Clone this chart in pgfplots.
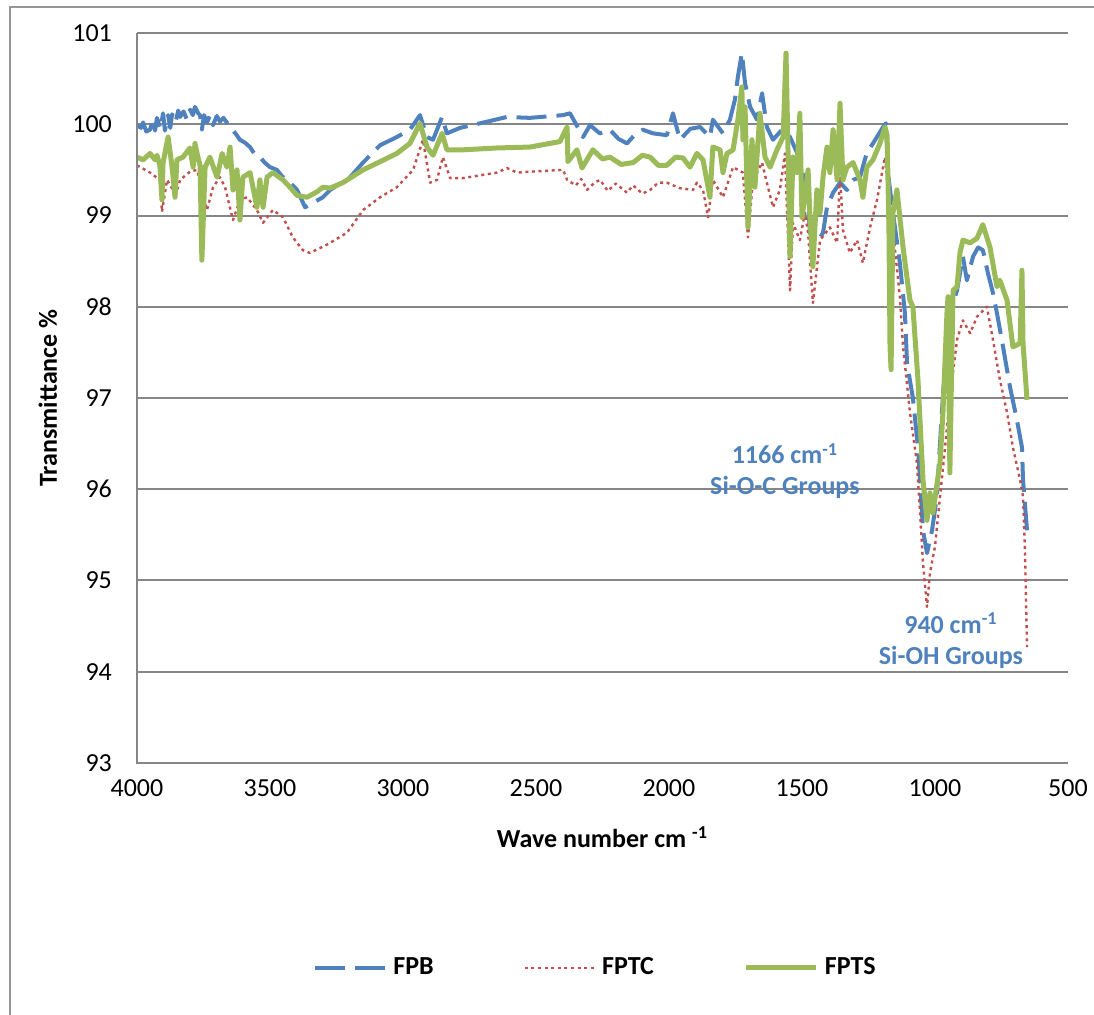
\documentclass[border=0pt]{standalone}
\usepackage{fontspec}
\setmainfont{Carlito}
\usepackage{pgfplots}
\pgfplotsset{compat=1.18}
\definecolor{fpb}{RGB}{79,129,189}
\definecolor{fptc}{RGB}{192,80,77}
\definecolor{fpts}{RGB}{155,187,89}
\definecolor{gridgray}{RGB}{134,134,134}
\definecolor{framegray}{RGB}{150,150,150}
\begin{document}
\begin{tikzpicture}
\useasboundingbox (-68.5pt,-126pt) rectangle (478.5pt,381.5pt);
\draw[framegray, line width=0.75pt] (-63.5pt,-130pt) -- (-63.5pt,378pt) -- (482pt,378pt);
\begin{axis}[name=ax, at={(0,0)}, anchor=south west,
  scale only axis, width=465.5pt, height=365pt,
  x dir=reverse, xmin=500, xmax=4000, ymin=93, ymax=101,
  xtick={500,1000,1500,2000,2500,3000,3500,4000},
  ytick={93,94,95,96,97,98,99,100,101},
  major tick length=0pt, tick style={draw=none},
  axis line style={draw=none},
  ymajorgrids, grid style={gridgray, line width=1pt},
  /pgf/number format/1000 sep={},
  /pgf/number format/assume math mode=true,
  ticklabel style={font=\fontsize{13}{15}\selectfont},
  yticklabel style={xshift=-9pt},
  xticklabel style={yshift=-5pt},
  xlabel={Wave number cm \textsuperscript{-1}},
  ylabel={Transmittance \%},
  label style={font=\fontsize{13}{15}\selectfont\bfseries},
  xlabel style={at={(axis description cs:0.5,-0.1014)}, anchor=center},
  ylabel style={at={(axis description cs:-0.0956,0.5)}, anchor=center},
  legend columns=3,
  legend image code/.code={\draw[#1] (0pt,0pt) -- (35pt,0pt);},
  legend style={at={(0.189,-0.2808)}, anchor=west, draw=none, fill=none, inner sep=0pt,
    font=\fontsize{13}{15}\selectfont\bfseries,
    /tikz/every odd column/.append style={column sep=1pt},
    /tikz/every even column/.append style={column sep=43pt}},
]
\addplot[fpb, line width=2pt, dash pattern=on 15pt off 5pt, line join=round] coordinates {
(4000,99.99) (3985,99.96) (3977,100.02) (3965,99.92) (3951,99.94) (3940,100.06) (3932,99.93)
(3925,100.07) (3912,99.95) (3902,100.12) (3895,99.93) (3883,100.10) (3875,99.96) (3868,100.11)
(3855,100.02) (3845,100.15) (3838,100.08) (3825,100.14) (3812,100.05) (3800,100.16) (3790,100.10)
(3782,100.19) (3770,100.12) (3763,100.10) (3756,99.94) (3748,100.10) (3737,100.02) (3725,100.10)
(3714,99.99) (3700,100.09) (3688,100.03) (3675,100.07) (3650,99.97) (3630,99.90) (3613,99.83)
(3595,99.80) (3575,99.75) (3555,99.66) (3538,99.64) (3520,99.58) (3500,99.53) (3474,99.50)
(3455,99.43) (3436,99.39) (3415,99.33) (3398,99.28) (3368,99.09) (3338,99.14) (3301,99.20)
(3274,99.28) (3199,99.42) (3150,99.58) (3086,99.77) (3023,99.86) (2974,99.94) (2936,100.10)
(2910,99.86) (2887,99.83) (2853,100.08) (2835,99.90) (2786,99.96) (2711,100.01) (2609,100.08)
(2523,100.07) (2398,100.10) (2372,100.12) (2323,99.86) (2297,99.99) (2260,99.90) (2222,99.94)
(2190,99.84) (2158,99.79) (2130,99.88) (2098,99.94) (2060,99.90) (2008,99.88)
(1985,100.12) (1959,99.83) (1920,99.95) (1883,99.97) (1846,99.86) (1835,100.05) (1797,99.90)
(1771,100.05) (1752,100.27) (1741,100.52) (1726,100.78) (1714,100.45) (1695,100.19) (1669,100.05)
(1650,100.34) (1632,99.97) (1609,99.83) (1575,99.94) (1545,99.86) (1519,99.69) (1481,99.28)
(1470,98.81) (1444,98.70) (1421,98.81) (1406,99.09) (1383,99.25) (1357,99.36) (1331,99.28)
(1308,99.39) (1282,99.42) (1256,99.69) (1233,99.79) (1195,99.97) (1184,100.01) (1177,99.47)
(1158,99.03) (1132,98.48) (1113,97.93) (1105,97.38) (1083,97.00) (1064,96.46) (1056,96.10)
(1045,95.55) (1030,95.30) (1011,95.55) (993,95.92) (974,96.84) (962,97.38) (944,97.93)
(917,98.18) (895,98.55) (880,98.29) (857,98.55) (838,98.65) (820,98.62) (801,98.37)
(782,98.15) (767,97.93) (744,97.56) (718,97.12) (692,96.76) (673,96.46) (669,96.10) (654,95.55)
};
\addlegendentry{FPB}
\addplot[fptc, line width=1.2pt, dash pattern=on 1.5pt off 1.8pt, line join=round] coordinates {
(4000,99.55) (3951,99.47) (3914,99.39) (3906,99.04) (3887,99.39) (3865,99.28) (3857,99.20)
(3838,99.39) (3801,99.48) (3774,99.50) (3737,99.06) (3714,99.31) (3688,99.42) (3669,99.31)
(3639,98.95) (3613,99.17) (3586,99.20) (3549,99.06) (3526,98.92) (3489,99.06) (3451,98.98)
(3414,98.76) (3376,98.62) (3350,98.59) (3286,98.68) (3211,98.81) (3150,99.06) (3086,99.20)
(3023,99.31) (2962,99.50) (2925,99.83) (2898,99.36) (2872,99.39) (2850,99.64) (2823,99.41)
(2774,99.41) (2647,99.47) (2609,99.52) (2571,99.47) (2523,99.48) (2398,99.50) (2383,99.39)
(2350,99.33) (2330,99.40) (2308,99.28) (2280,99.36) (2259,99.39) (2230,99.27) (2200,99.35)
(2158,99.25) (2135,99.33) (2100,99.24) (2071,99.28) (2040,99.36) (2008,99.36) (1960,99.30)
(1910,99.28) (1895,99.36) (1872,99.28) (1853,98.98) (1835,99.39) (1797,99.20) (1759,99.53)
(1722,99.47) (1703,98.76) (1684,99.39) (1650,99.58) (1632,99.36) (1609,99.09) (1583,99.28)
(1564,99.68) (1545,98.18) (1534,98.92) (1508,98.73) (1489,99.03) (1477,98.81) (1459,98.04)
(1432,98.73) (1395,98.87) (1368,98.70) (1357,99.47) (1346,98.84) (1320,98.59) (1293,98.73)
(1271,98.48) (1244,98.87) (1218,99.17) (1199,99.47) (1188,99.64) (1169,99.09) (1158,98.84)
(1132,98.11) (1120,97.56) (1094,96.84) (1068,96.29) (1056,95.74) (1045,95.19) (1030,94.71)
(1019,95.08) (1000,95.37) (981,95.92) (962,96.46) (944,97.01) (917,97.64) (895,97.85)
(868,97.71) (842,97.89) (805,98.00) (782,97.64) (756,97.20) (729,96.84) (707,96.46)
(680,96.10) (669,95.92) (662,95.37) (654,94.27)
};
\addlegendentry{FPTC}
\addplot[fpts, line width=2.5pt, line join=round] coordinates {
(4000,99.64) (3977,99.61) (3951,99.68) (3932,99.61) (3925,99.66) (3914,99.55) (3906,99.17)
(3902,99.58) (3883,99.86) (3868,99.53) (3857,99.20) (3850,99.61) (3827,99.64) (3801,99.74)
(3789,99.53) (3782,99.79) (3771,99.64) (3763,99.55) (3756,98.51) (3744,99.53) (3726,99.64)
(3699,99.42) (3680,99.68) (3662,99.53) (3650,99.75) (3639,99.28) (3624,99.50) (3613,98.95)
(3602,99.42) (3575,99.47) (3549,99.09) (3538,99.39) (3526,99.09) (3511,99.42) (3489,99.47)
(3451,99.39) (3425,99.31) (3398,99.22) (3361,99.20) (3323,99.26) (3301,99.31) (3274,99.30)
(3226,99.36) (3150,99.50) (3086,99.59) (3023,99.68) (2974,99.79) (2936,100.01) (2910,99.75)
(2887,99.66) (2853,99.90) (2835,99.72) (2774,99.72) (2647,99.74) (2523,99.75) (2410,99.81)
(2383,99.97) (2380,99.59) (2346,99.72) (2327,99.52) (2286,99.72) (2250,99.62) (2222,99.64)
(2180,99.56) (2135,99.58) (2100,99.66) (2071,99.64) (2040,99.55) (2008,99.55) (1975,99.64)
(1947,99.63) (1921,99.53) (1895,99.68) (1872,99.61) (1846,99.20) (1835,99.75) (1808,99.72)
(1797,99.47) (1782,99.68) (1759,99.72) (1741,100.05) (1726,100.41) (1722,99.83) (1714,100.19)
(1703,98.87) (1688,99.83) (1677,99.31) (1658,100.12) (1639,99.64) (1620,99.53) (1594,99.72)
(1571,99.86) (1560,100.78) (1552,99.64) (1545,98.55) (1534,99.64) (1519,99.47) (1508,100.12)
(1500,98.98) (1489,99.20) (1477,99.50) (1470,98.98) (1459,98.44) (1444,99.28) (1432,99.03)
(1421,99.42) (1406,99.75) (1395,99.47) (1383,99.94) (1368,99.39) (1357,100.23) (1346,99.39)
(1331,99.53) (1308,99.58) (1282,99.39) (1271,99.20) (1256,99.53) (1233,99.61) (1207,99.79)
(1188,99.97) (1180,99.88) (1173,98.84) (1169,97.56) (1165,97.31) (1158,99.03) (1143,99.28)
(1120,98.65) (1094,98.07) (1083,98.00) (1064,97.20) (1045,96.10) (1030,95.66) (1019,95.96)
(1008,95.74) (981,96.29) (970,96.84) (955,97.93) (951,98.11) (944,96.18) (936,97.56)
(932,98.18) (917,98.22) (906,98.59) (895,98.73) (868,98.70) (842,98.75) (820,98.90)
(793,98.65) (767,98.22) (756,98.29) (729,98.07) (707,97.56) (680,97.60) (673,98.40)
(669,97.60) (654,96.98)
};
\addlegendentry{FPTS}
\node[align=center, text=fpb, font=\fontsize{13}{15.5}\selectfont\bfseries] at (axis cs:1564,96.2) {1166 cm\textsuperscript{-1}\\Si-O-C Groups};
\node[align=center, text=fpb, font=\fontsize{13}{15.5}\selectfont\bfseries] at (axis cs:940,94.34) {940 cm\textsuperscript{-1}\\Si-OH Groups};
\end{axis}
\draw[gridgray, line width=1pt] (ax.north west) -- (ax.south west) -- (ax.south east);
\end{tikzpicture}
\end{document}
